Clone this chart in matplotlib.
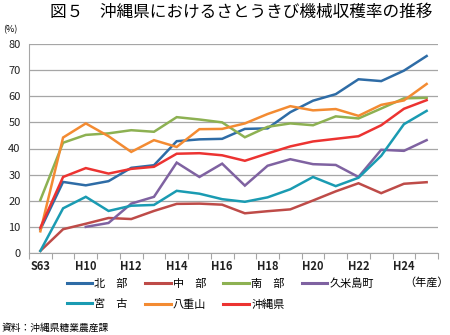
import numpy as np
import matplotlib
matplotlib.use('Agg')
import matplotlib.pyplot as plt
from matplotlib.lines import Line2D

plt.rcParams['font.family'] = ['Noto Sans CJK JP', 'DejaVu Sans']

# --- データ ---
years = ['S63'] + ['H%d' % y for y in range(9, 26)]
tick_labels = ['S63', '', 'H10', '', 'H12', '', 'H14', '', 'H16', '',
               'H18', '', 'H20', '', 'H22', '', 'H24', '']

hokubu = [9.0, 27.2, 25.9, 27.5, 32.6, 33.6, 42.8, 43.5, 43.7, 47.5,
          47.7, 53.9, 58.3, 60.8, 66.5, 65.8, 69.8, 75.4]
chubu = [0.8, 9.1, 11.2, 13.4, 13.0, 16.1, 18.8, 18.9, 18.5, 15.2,
         16.0, 16.7, 20.1, 23.6, 26.7, 22.9, 26.5, 27.1]
nanbu = [20.3, 42.2, 45.2, 45.8, 47.0, 46.4, 52.0, 51.1, 50.0, 44.3,
         48.3, 49.6, 48.9, 52.3, 51.5, 55.3, 59.2, 59.4]
kumejima = [np.nan, np.nan, 10.0, 11.5, 18.9, 21.5, 34.6, 29.1, 34.2, 25.8,
            33.4, 35.9, 34.0, 33.7, 29.1, 39.5, 39.1, 43.2]
miyako = [0.8, 17.1, 21.5, 16.1, 18.1, 18.4, 23.8, 22.7, 20.6, 19.6,
          21.3, 24.4, 29.1, 25.6, 28.8, 37.2, 49.3, 54.4]
yaeyama = [8.3, 44.2, 49.6, 44.7, 38.7, 43.2, 40.6, 47.4, 47.5, 49.6,
           53.2, 56.2, 54.6, 55.1, 52.5, 56.7, 58.4, 64.7]
okinawa = [9.7, 29.1, 32.5, 30.4, 32.2, 33.0, 38.0, 38.2, 37.4, 35.3,
           38.1, 40.8, 42.7, 43.7, 44.7, 48.9, 55.2, 58.5]

series = [
    ('北　部', hokubu, '#2e6ca6'),
    ('中　部', chubu, '#be4b48'),
    ('南　部', nanbu, '#8db152'),
    ('久米島町', kumejima, '#7f62a1'),
    ('宮　古', miyako, '#1a9bb2'),
    ('八重山', yaeyama, '#f38b32'),
    ('沖縄県', okinawa, '#ec3331'),
]

fig = plt.figure(figsize=(4.5, 3.35), dpi=100)
ax = fig.add_axes([29 / 450, 1 - 253 / 335, 409 / 450, 209 / 335])

x = np.arange(len(years))
for name, vals, col in series:
    ax.plot(x, vals, color=col, linewidth=1.8, solid_joinstyle='miter')

ax.set_xlim(-0.5, len(years) - 0.5)
ax.set_ylim(0, 80)
ax.set_yticks(range(0, 81, 10))
ax.grid(axis='y', color='#a6a6a6', linewidth=0.9)
ax.set_axisbelow(True)
for s in ['top', 'right']:
    ax.spines[s].set_visible(False)
for s in ['left', 'bottom']:
    ax.spines[s].set_color('#a6a6a6')
ax.tick_params(axis='y', length=0, labelsize=8, pad=6, colors='#222222')

# x軸: 目盛りは区切り線、ラベルは中央
ax.set_xticks(np.arange(len(years) + 1) - 0.5)
ax.set_xticklabels([])
ax.tick_params(axis='x', which='major', length=4, color='#a6a6a6', direction='out')
ax.set_xticks(x, minor=True)
ax.set_xticklabels(tick_labels, minor=True, fontsize=8, fontweight='bold', color='#222222')
ax.tick_params(axis='x', which='minor', length=0, pad=5)

fig.text(0.535, 0.962, '図５　沖縄県におけるさとうきび機械収穫率の推移',
         ha='center', va='center', fontsize=12)
fig.text(0.008, 0.912, '(%)', fontsize=6.5, va='center')
fig.text(0.997, 0.158, '（年産）', fontsize=8, ha='right', va='center')
fig.text(0.003, 0.022, '資料：沖縄県糖業農産課', fontsize=7, va='center')

# 凡例 (列ごとに並ぶので順番を入れ替える)
order = [0, 4, 1, 5, 2, 6, 3]
handles = [Line2D([], [], color=series[i][2], linewidth=2.2) for i in order]
labels = [series[i][0] for i in order]
fig.legend(handles, labels, ncol=4, loc='center left', bbox_to_anchor=(0.148, 0.123),
           frameon=False, fontsize=8, handlelength=2.3, handletextpad=0.2,
           columnspacing=1.55, labelspacing=0.95, borderaxespad=0, borderpad=0)

fig.savefig('out.png', dpi=100)
